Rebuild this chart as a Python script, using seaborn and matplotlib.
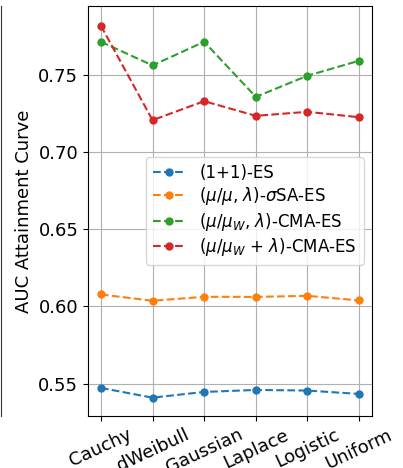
import matplotlib
matplotlib.use("Agg")
import matplotlib.pyplot as plt
import seaborn as sns
import pandas as pd
from matplotlib.lines import Line2D

categories = ["Cauchy", "dWeibull", "Gaussian", "Laplace", "Logistic", "Uniform"]
one_plus_one = [0.5472, 0.5409, 0.5446, 0.5459, 0.5455, 0.5433]
sigma_sa = [0.6078, 0.6037, 0.6063, 0.6062, 0.6069, 0.6039]
cma_comma = [0.7716, 0.7563, 0.7716, 0.7359, 0.7496, 0.7593]
cma_plus = [0.7820, 0.7208, 0.7331, 0.7236, 0.7262, 0.7227]

labels = [
    "(1+1)-ES",
    r"$(\mu/\mu$, $\lambda)$-$\sigma$SA-ES",
    r"$(\mu/\mu_W$, $\lambda)$-CMA-ES",
    r"$(\mu/\mu_W$ + $\lambda)$-CMA-ES",
]
series = [one_plus_one, sigma_sa, cma_comma, cma_plus]
colors = ["#1f77b4", "#ff7f0e", "#2ca02c", "#d62728"]

plt.rcParams["font.family"] = ["DejaVu Sans"]
fig = plt.figure(figsize=(4.03, 4.68), dpi=100)
ax = fig.add_axes([88 / 403, 1 - 416 / 468, (372 - 88) / 403, (416 - 6) / 468])

for vals, lab, col in zip(series, labels, colors):
    df = pd.DataFrame({"dist": categories, "auc": vals})
    sns.lineplot(data=df, x="dist", y="auc", sort=False, ax=ax, color=col,
                 marker="o", linestyle="--", label=lab, markersize=6,
                 markeredgewidth=0, linewidth=1.5)

ax.set_ylim(0.529, 0.7948)
ax.set_yticks([0.55, 0.60, 0.65, 0.70, 0.75])
ax.grid(True, color="#b0b0b0", linewidth=0.8)
ax.set_axisbelow(True)
ax.set_xlabel("")
ax.set_ylabel("AUC Attainment Curve", fontsize=13)
ax.tick_params(axis="both", labelsize=13)
plt.setp(ax.get_xticklabels(), rotation=25, ha="center")
ax.legend(loc="center right", fontsize=12, labelspacing=0.2)

fig.add_artist(Line2D([1.0 / 403, 1.0 / 403], [1 - 6 / 468, 1 - 416 / 468],
                      transform=fig.transFigure, color="#333333", linewidth=0.8))

fig.savefig("out.png", dpi=100)
